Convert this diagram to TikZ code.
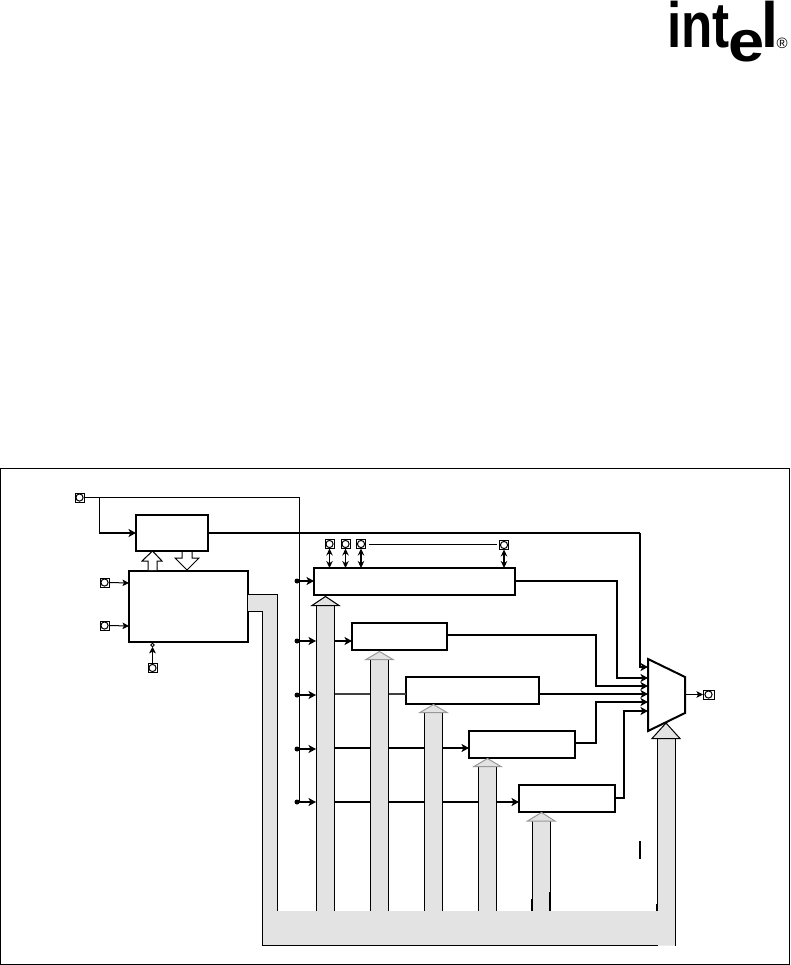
\documentclass[tikz,border=0pt]{standalone}
\usepackage{fontspec}
\setmainfont{Liberation Sans}
\usetikzlibrary{arrows.meta}
\definecolor{busgray}{gray}{0.89}
\tikzset{
  x=1pt,y=-1pt,
  blockbox/.style={draw=black,line width=2pt,fill=white,minimum width=0pt,minimum height=0pt,inner sep=0pt,outer sep=0pt},
  padbox/.style={draw=black,line width=1pt,fill=white,minimum size=9pt,inner sep=0pt,outer sep=0pt,
    path picture={\draw[line width=1pt,fill=white] (path picture bounding box.center) circle (3.6pt);}},
  wire/.style={line width=1pt,draw=black},
  wirethick/.style={line width=2pt,draw=black},
  arrowwire/.style={wirethick,-{Stealth[length=7.5pt,width=8pt,inset=2pt]}},
  thinarrow/.style={wire,-{Stealth[length=6.5pt,width=6.5pt,inset=1.5pt]}},
  twoway/.style={line width=1.3pt,draw=black,{Stealth[length=7pt,width=6.5pt]}-{Stealth[length=7pt,width=6.5pt]}},
  srcdot/.style={circle,fill=black,minimum size=5pt,inner sep=0pt,outer sep=0pt},
  busfill/.style={fill=busgray,draw=none},
  busline/.style={line width=1pt,draw=black},
  bushead/.style={fill=busgray,draw=black,line width=1pt,line join=miter},
  busheadpale/.style={fill=busgray,draw=black!40,line width=1pt,line join=miter},
  logotext/.style={inner sep=0pt,outer sep=0pt,anchor=base west},
}
\begin{document}
\begin{tikzpicture}
\useasboundingbox (0,0) rectangle (790,965);
\fill[white] (0,0) rectangle (790,965);
% logo
\node[logotext,xscale=.80] (logoint) at (667,47.5) {\fontsize{64}{64}\selectfont\bfseries int};
\node[logotext,xscale=1.12] (logoe) at (728,62) {\fontsize{58}{58}\selectfont\bfseries e};
\node[logotext,xscale=.95] (logol) at (761.5,47.5) {\fontsize{64}{64}\selectfont\bfseries l};
\node[logotext] (logor) at (776.5,49) {\fontsize{15}{15}\selectfont ®};
% frame
\draw[line width=1pt] (0.5,468.5) rectangle (789.5,964.5);

% rail and clock
\coordinate (toppadj) at (99.5,497.5);
\coordinate (railtop) at (299.5,497.5);
\coordinate (railbot) at (299.5,802);
\node[padbox] (padclk) at (79.5,497.5) {};
\draw[wire] (padclk.east) -- (railtop) -- (railbot);
\coordinate (aIn) at (136,533);
\coordinate (jcorner) at (99,533);
\draw[wire] (toppadj) -- (99.5,534);
\draw[arrowwire] (jcorner) -- (aIn);

% source dots
\foreach \n/\y in {a/581,b/641,c/695,d/749,e/802}{
  \node[srcdot] (dot\n) at (297,\y) {};
}
% blocks
\node[blockbox,minimum width=72pt,minimum height=36pt] (blockA) at (172,533) {};
\node[blockbox,minimum width=119pt,minimum height=71pt] (blockB) at (188.5,606.5) {};
\node[blockbox,minimum width=201pt,minimum height=27pt] (blockC) at (414.5,581.5) {};
\node[blockbox,minimum width=95pt,minimum height=27pt] (blockD) at (399.5,636.5) {};
\node[blockbox,minimum width=133pt,minimum height=27pt] (blockE) at (472.5,690.5) {};
\node[blockbox,minimum width=106pt,minimum height=27pt] (blockF) at (522,744.5) {};
\node[blockbox,minimum width=96pt,minimum height=27pt] (blockG) at (567,798.5) {};

% mux
\coordinate (muxA) at (648,659);
\coordinate (muxB) at (685,677);
\coordinate (muxC) at (685,713);
\coordinate (muxD) at (648,731);
\coordinate (muxOut) at (685,694.5);
\foreach \n/\y in {a/667,b/678,c/686,d/694,e/702,f/711}{
  \coordinate (mi\n) at (648,\y);
}
% outputs to mux
\coordinate (aTurn) at (640,533);
\draw[wirethick] (blockA.east) -- (aTurn);
\draw[arrowwire] (aTurn) -- (640,667) -- (mia);
\draw[arrowwire] (515,581) -- (617,581) -- (617,678) -- (mib);
\draw[arrowwire] (447,635) -- (596,635) -- (596,686) -- (mic);
\coordinate (eOut) at (539,694);
\draw[arrowwire] (eOut) -- (mid);
\coordinate (fOut) at (575,743);
\draw[arrowwire] (fOut) -- (596,743) -- (596,702) -- (mie);
\coordinate (gOut) at (615,798);
\draw[arrowwire] (gOut) -- (624,798) -- (624,711) -- (mif);
\draw[line width=2pt,fill=white,line join=miter] (muxA) -- (muxB) -- (muxC) -- (muxD) -- cycle;

% inputs to blocks
\coordinate (cIn) at (314,581);
\draw[arrowwire] (dota.center) -- (cIn);
\coordinate (dOut) at (334,641);
\coordinate (dIn) at (352,641);
\draw[arrowwire] (dotb.center) -- (316,641);
\draw[arrowwire] (dOut) -- (dIn);
\coordinate (cOut) at (334,694);
\coordinate (eIn) at (406,694);
\draw[arrowwire] (dotc.center) -- (316,695);
\draw[wirethick,draw=black!75] (cOut) -- (eIn);
\coordinate (fIn) at (469,748);
\draw[arrowwire] (dotd.center) -- (316,749);
\draw[arrowwire] (334,748) -- (fIn);
\coordinate (gIn) at (519,802);
\draw[arrowwire] (dote.center) -- (316,802);
\draw[arrowwire] (334,802) -- (gIn);

% buses: fills
\fill[busfill] (248,594.5) -- (277.5,594.5) -- (277.5,911) -- (657.5,911) -- (657.5,738) -- (675.5,738) -- (675.5,945.5) -- (262.5,945.5) -- (262.5,611.5) -- (248,611.5) -- cycle;
\foreach \xa/\xb/\top in {316.5/334.5/605,370.5/388.5/659,424.5/442.5/712,478.5/496.5/766,532.5/550.5/821}{
  \fill[busfill] (\xa,\top) rectangle (\xb,912);
  \draw[busline] (\xa,\top) -- (\xa,911);
  \draw[busline] (\xb,\top) -- (\xb,911);
}
% bus outlines
\draw[busline] (248,594.5) -- (277.5,594.5) -- (277.5,911);
\draw[busline] (248,611.5) -- (262.5,611.5) -- (262.5,945.5) -- (658,945.5);
\draw[busline] (675.5,738) -- (675.5,945.5);
\draw[busline] (657.5,738) -- (657.5,911);
\draw[line width=2pt] (657,904) -- (657,911);
\draw[line width=2pt] (532,899) -- (532,911);
\draw[line width=2pt] (550,892) -- (550,911);
% bus heads
\draw[bushead] (312,605.5) -- (325.5,596.5) -- (339,605.5) -- cycle;
\draw[busheadpale] (366,659.5) -- (379.5,651.5) -- (393,659.5) -- cycle;
\draw[busheadpale] (420,712.5) -- (433.5,704.5) -- (447,712.5) -- cycle;
\draw[busheadpale] (474,766.5) -- (487.5,758.5) -- (501,766.5) -- cycle;
\draw[busheadpale] (527.5,821) -- (541.5,812.5) -- (555,821) -- cycle;
\draw[bushead] (652,738.5) -- (666,723) -- (680,738.5) -- cycle;
% stray mark
\coordinate (markA) at (640,841);
\coordinate (markB) at (640,859);
\draw[line width=2pt] (markA) -- (markB);

% hollow arrows
\coordinate (upTip) at (152.5,551);
\draw[line width=1pt,fill=white,line join=miter] (148,570) -- (148,561) -- (142,561) -- (upTip) -- (162,561) -- (157,561) -- (157,570);
\coordinate (dnTip) at (187,570);
\draw[line width=1pt,fill=white,line join=miter] (182,552) -- (182,558) -- (175,558) -- (dnTip) -- (199,558) -- (192,558) -- (192,552);

% pads on block B
\node[padbox] (padb1) at (104.5,582.5) {};
\node[padbox] (padb2) at (104.5,625.5) {};
\node[padbox] (padb3) at (152.5,668) {};
\coordinate (b1In) at (129,583);
\coordinate (b2In) at (129,626);
\draw[thinarrow] (padb1.east) -- (b1In);
\draw[thinarrow] (padb2.east) -- (b2In);
\node[circle,draw=black,line width=.8pt,fill=white,minimum size=3.5pt,inner sep=0pt,outer sep=0pt] (negb) at (152.5,645) {};
\draw[thinarrow] (padb3.north) -- (negb.south);

% pads on block C
\node[padbox] (padc1) at (329.5,544) {};
\node[padbox] (padc2) at (345.5,544) {};
\node[padbox] (padc3) at (361,544) {};
\node[padbox] (padc4) at (504,545) {};
\foreach \n in {1,2,3,4}{
  \draw[twoway] (padc\n.south) -- (padc\n.south |- blockC.north);
}
\coordinate (dotsA) at (369,544.5);
\coordinate (dotsB) at (497,544.5);
\draw[line width=1.5pt] (dotsA) -- (dotsB);

% output pad
\node[padbox,minimum width=11pt,minimum height=9pt] (padout) at (708.5,694.5) {};
\draw[thinarrow] (muxOut) -- (padout.west);
\end{tikzpicture}
\end{document}
